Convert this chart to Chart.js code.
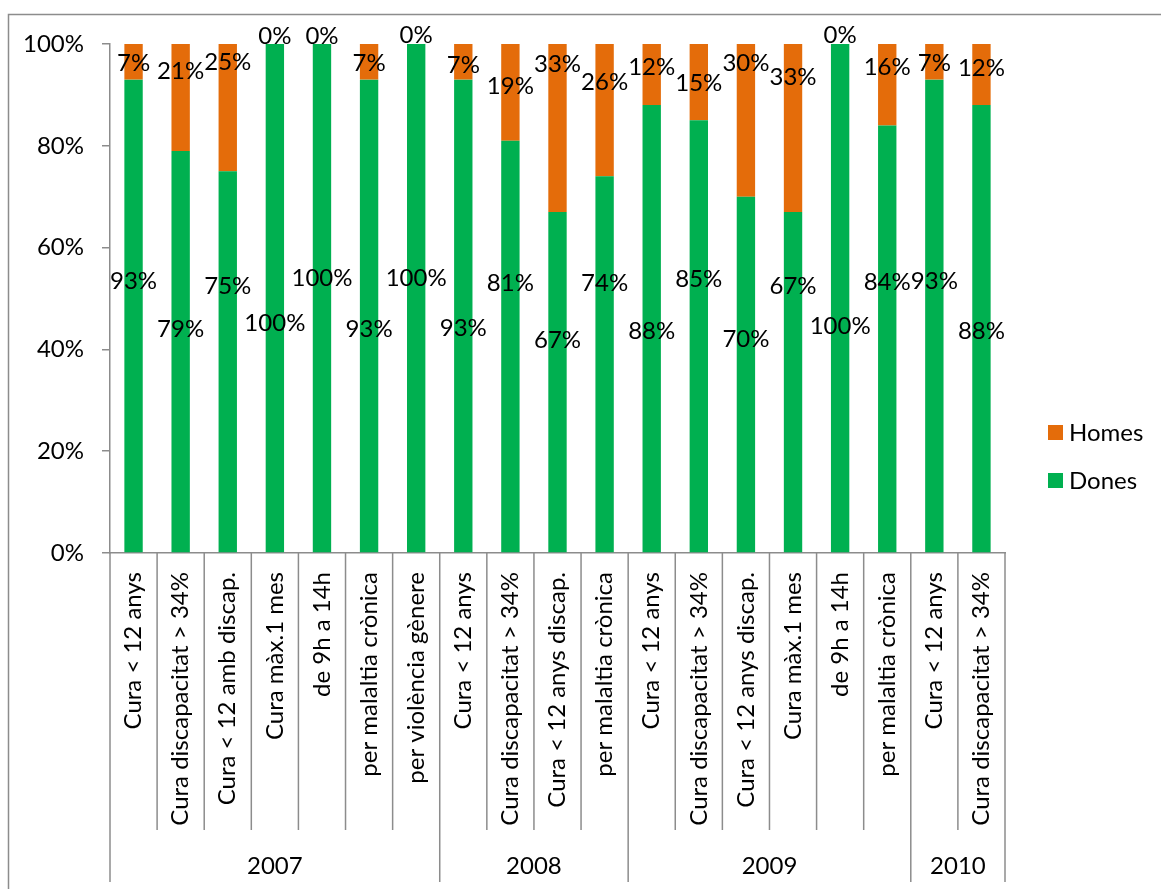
<!DOCTYPE html>
<html>
<head>
<meta charset="utf-8">
<script src="https://cdn.jsdelivr.net/npm/chart.js@4"></script>
<style>
  body { margin: 0; background: #fff; }
  #wrap { width: 1161px; height: 889px; }
</style>
</head>
<body>
<div id="wrap"><canvas id="permisos" width="1161" height="889"></canvas></div>
<script>
const categories = [
  'Cura < 12 anys', 'Cura discapacitat > 34%', 'Cura < 12 amb discap.', 'Cura màx.1 mes',
  'de 9h a 14h', 'per malaltia crònica', 'per violència gènere',
  'Cura < 12 anys', 'Cura discapacitat > 34%', 'Cura < 12 anys discap.', 'per malaltia crònica',
  'Cura < 12 anys', 'Cura discapacitat > 34%', 'Cura < 12 anys discap.', 'Cura màx.1 mes',
  'de 9h a 14h', 'per malaltia crònica',
  'Cura < 12 anys', 'Cura discapacitat > 34%'
];
// year groups: label + number of categories in it
const years = ['2007', '2008', '2009', '2010'];
const yearSizes = [7, 4, 6, 2];

const dones = [93, 79, 75, 100, 100, 93, 100, 93, 81, 67, 74, 88, 85, 70, 67, 100, 84, 93, 88];
const homes = [7, 21, 25, 0, 0, 7, 0, 7, 19, 33, 26, 12, 15, 30, 33, 0, 16, 7, 12];
const yTicks = [0, 20, 40, 60, 80, 100];

const GREEN = '#00b050';
const ORANGE = '#e46c0a';
const LINE = '#8c8c8c';
const FONT = 'Lato';
const SIZE = 24;

// where each value label sits on the % axis (labels were spread out by hand)
const donesLabelAt = [53.4, 44.0, 52.5, 45.2, 54.0, 44.0, 54.0, 44.2, 53.0, 41.8,
                      53.0, 43.6, 53.8, 42.0, 52.5, 44.6, 53.2, 53.4, 43.6];
const homesLabelAt = [96.3, 94.7, 96.5, 101.6, 101.6, 96.3, 101.8, 95.9, 91.7, 96.1,
                      92.5, 95.5, 92.3, 96.3, 93.5, 101.8, 95.5, 96.3, 95.3];

const extras = {
  id: 'extras',
  afterDraw(chart) {
    const ctx = chart.ctx;
    const x = chart.scales.x, y = chart.scales.y;
    const area = chart.chartArea;
    const step = (area.right - area.left) / categories.length;
    ctx.save();

    // outer frame
    ctx.strokeStyle = LINE;
    ctx.lineWidth = 1.5;
    ctx.strokeRect(8.5, 14.5, 1180, 900);

    // category separators and year groups
    const groupEdges = [0];
    yearSizes.forEach((n, i) => groupEdges.push(groupEdges[i] + n));
    for (let i = 0; i <= categories.length; i++) {
      const px = area.left + i * step;
      const isGroup = groupEdges.includes(i);
      ctx.beginPath();
      ctx.moveTo(px, area.bottom);
      ctx.lineTo(px, isGroup ? 882 : 830);
      ctx.stroke();
    }
    ctx.fillStyle = '#000';
    ctx.font = SIZE + 'px ' + FONT;
    ctx.textAlign = 'center';
    ctx.textBaseline = 'middle';
    years.forEach((yr, i) => {
      const cx = area.left + (groupEdges[i] + groupEdges[i + 1]) / 2 * step;
      ctx.fillText(yr, cx, 866);
    });

    // value labels
    categories.forEach((c, i) => {
      const cx = x.getPixelForValue(i);
      ctx.fillText(dones[i] + '%', cx, y.getPixelForValue(donesLabelAt[i]));
      ctx.fillText(homes[i] + '%', cx, y.getPixelForValue(homesLabelAt[i]));
    });

    // legend
    const legend = [['Homes', ORANGE, 432], ['Dones', GREEN, 480]];
    ctx.textAlign = 'left';
    legend.forEach(([name, color, ly]) => {
      ctx.fillStyle = color;
      ctx.fillRect(1048, ly - 7, 15, 15);
      ctx.fillStyle = '#000';
      ctx.fillText(name, 1069, ly + 1);
    });
    ctx.restore();
  }
};

new Chart(document.getElementById('permisos'), {
  type: 'bar',
  data: {
    labels: categories,
    datasets: [
      { label: 'Dones', data: dones, backgroundColor: GREEN },
      { label: 'Homes', data: homes, backgroundColor: ORANGE }
    ]
  },
  options: {
    responsive: false,
    animation: false,
    layout: { padding: { left: 0, top: 44, right: 156, bottom: 0 } },
    datasets: { bar: { categoryPercentage: 1, barPercentage: 0.39 } },
    plugins: { legend: { display: false }, tooltip: { enabled: false } },
    scales: {
      x: {
        stacked: true,
        afterFit(scale) { scale.height = 336; },
        grid: { drawOnChartArea: false, drawTicks: false },
        border: { color: LINE, width: 1.5 },
        ticks: {
          autoSkip: false, minRotation: 90, maxRotation: 90, padding: 19,
          color: '#000', font: { family: FONT, size: SIZE }
        }
      },
      y: {
        stacked: true,
        min: 0, max: 100,
        afterFit(scale) { scale.width = 110; },
        afterBuildTicks(scale) { scale.ticks = yTicks.map(v => ({ value: v })); },
        grid: { drawOnChartArea: false, drawTicks: true, tickLength: 8, color: LINE, lineWidth: 1.5 },
        border: { color: LINE, width: 1.5 },
        ticks: {
          padding: 18, color: '#000', font: { family: FONT, size: SIZE },
          callback: v => v + '%'
        }
      }
    }
  },
  plugins: [extras]
});
</script>
</body>
</html>
